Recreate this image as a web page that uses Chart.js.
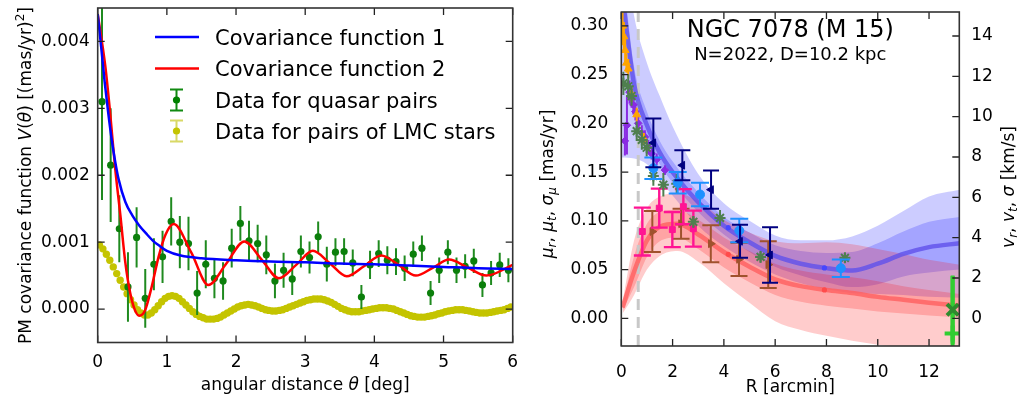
<!DOCTYPE html>
<html>
<head>
<meta charset="utf-8">
<script src="https://cdn.jsdelivr.net/npm/chart.js@4.4.1/dist/chart.umd.min.js"></script>
<style>
  html, body { margin: 0; padding: 0; background: #fff; }
  #wrap { position: relative; width: 1022px; height: 399px; }
  canvas { position: absolute; top: 0; }
</style>
</head>
<body>
<div id="wrap">
  <canvas id="covChart" width="520" height="399" style="left:0"></canvas>
  <canvas id="m15Chart" width="502" height="399" style="left:520px"></canvas>
</div>
<script>
// ---------- left panel: PM covariance ----------
const covTicksX = [0, 1, 2, 3, 4, 5, 6];
const covTicksY = [0, 0.001, 0.002, 0.003, 0.004];

const cov1Theta = [0, 0.05, 0.1, 0.15, 0.2, 0.25, 0.3, 0.4, 0.5, 0.6, 0.7, 0.8, 0.9, 1.0, 1.2, 1.5, 2.0, 2.5, 3.0, 3.5, 4.0, 4.5, 5.0, 5.5, 6.0];
const cov1 = [0.00441, 0.00392, 0.0034, 0.00295, 0.00255, 0.00222, 0.00195, 0.0016, 0.0014, 0.00125, 0.00113, 0.00102, 0.00094, 0.00087, 0.0008, 0.00076, 0.00073, 0.00071, 0.0007, 0.00068, 0.00067, 0.00065, 0.00063, 0.00061, 0.0006];

const cov2Theta = [0, 0.11, 0.18, 0.25, 0.33, 0.4, 0.47, 0.54, 0.6, 0.68, 0.78, 0.88, 0.98, 1.1, 1.35, 1.6, 1.86, 2.12, 2.37, 2.62, 2.87, 3.11, 3.35, 3.6, 3.85, 4.1, 4.35, 4.6, 4.85, 5.08, 5.35, 5.62, 6.0];
const cov2 = [0.00441, 0.00363, 0.00293, 0.00213, 0.00138, 0.00069, 0.00024, -0.00002, -0.0001, -0.00003, 0.00033, 0.00078, 0.00111, 0.00127, 0.00085, 0.00036, 0.00068, 0.00101, 0.00074, 0.00046, 0.00066, 0.00087, 0.00069, 0.00049, 0.00064, 0.0008, 0.00066, 0.0005, 0.00062, 0.00074, 0.00062, 0.0005, 0.00066];

const quasarTheta = [0.0625, 0.1875, 0.3125, 0.4375, 0.5625, 0.6875, 0.8125, 0.9375, 1.0625, 1.1875, 1.3125, 1.4375, 1.5625, 1.6875, 1.8125, 1.9375, 2.0625, 2.1875, 2.3125, 2.4375, 2.5625, 2.6875, 2.8125, 2.9375, 3.0625, 3.1875, 3.3125, 3.4375, 3.5625, 3.6875, 3.8125, 3.9375, 4.0625, 4.1875, 4.3125, 4.4375, 4.5625, 4.6875, 4.8125, 4.9375, 5.0625, 5.1875, 5.3125, 5.4375, 5.5625, 5.6875, 5.8125, 5.9375];
const quasarCov = [0.0031, 0.00215, 0.0012, 0.00033, 0.00107, 0.00016, 0.00067, 0.00078, 0.00131, 0.001, 0.00098, 0.00024, 0.00067, 0.00046, 0.00042, 0.00091, 0.00128, 0.00102, 0.00098, 0.00081, 0.00042, 0.00058, 0.00045, 0.00086, 0.00077, 0.00108, 0.00067, 0.00085, 0.00086, 0.00069, 0.00018, 0.00066, 0.00083, 0.00073, 0.00071, 0.00061, 0.00082, 0.00091, 0.00024, 0.00058, 0.00085, 0.00058, 0.00064, 0.00072, 0.00036, 0.00054, 0.00066, 0.00058];
const quasarErr = [0.00147, 0.00085, 0.0005, 0.00052, 0.00045, 0.00044, 0.00039, 0.00039, 0.00036, 0.00039, 0.0004, 0.00033, 0.00036, 0.0003, 0.00028, 0.00029, 0.00026, 0.0003, 0.00028, 0.00029, 0.00026, 0.00026, 0.00024, 0.00024, 0.00024, 0.00023, 0.00026, 0.00021, 0.0002, 0.0002, 0.00018, 0.00021, 0.0002, 0.00021, 0.0002, 0.00019, 0.00019, 0.00019, 0.00018, 0.00019, 0.00018, 0.00019, 0.00018, 0.00018, 0.00018, 0.00018, 0.00018, 0.00018];

const lmcTheta = [0.025, 0.075, 0.125, 0.175, 0.225, 0.275, 0.325, 0.375, 0.425, 0.475,
  0.525, 0.575, 0.625, 0.675, 0.725, 0.775, 0.825, 0.875, 0.925, 0.975,
  1.025, 1.075, 1.125, 1.175, 1.225, 1.275, 1.325, 1.375, 1.425, 1.475,
  1.525, 1.575, 1.625, 1.675, 1.725, 1.775, 1.825, 1.875, 1.925, 1.975,
  2.025, 2.075, 2.125, 2.175, 2.225, 2.275, 2.325, 2.375, 2.425, 2.475,
  2.525, 2.575, 2.625, 2.675, 2.725, 2.775, 2.825, 2.875, 2.925, 2.975,
  3.025, 3.075, 3.125, 3.175, 3.225, 3.275, 3.325, 3.375, 3.425, 3.475,
  3.525, 3.575, 3.625, 3.675, 3.725, 3.775, 3.825, 3.875, 3.925, 3.975,
  4.025, 4.075, 4.125, 4.175, 4.225, 4.275, 4.325, 4.375, 4.425, 4.475,
  4.525, 4.575, 4.625, 4.675, 4.725, 4.775, 4.825, 4.875, 4.925, 4.975,
  5.025, 5.075, 5.125, 5.175, 5.225, 5.275, 5.325, 5.375, 5.425, 5.475,
  5.525, 5.575, 5.625, 5.675, 5.725, 5.775, 5.825, 5.875, 5.925, 5.975];
const lmcCov = [0.00096, 0.0009, 0.00082, 0.00073, 0.00063, 0.00053, 0.00043, 0.00033, 0.00023, 0.00014,
  0.00006, -0.00001, -0.00006, -0.00009, -0.00009, -0.00006, -0.00001, 0.00005, 0.00011, 0.00016,
  0.00019, 0.0002, 0.00019, 0.00016, 0.00011, 0.00006, 0.00001, -0.00004, -0.00008, -0.00011,
  -0.00013, -0.00015, -0.00015, -0.00015, -0.00014, -0.00012, -0.00009, -0.00006, -0.00003, 0,
  0.00003, 0.00005, 0.00006, 0.00007, 0.00006, 0.00005, 0.00003, 0.00001, -0.00001, -0.00002,
  -0.00003, -0.00003, -0.00002, -0.00001, 0.00001, 0.00003, 0.00005, 0.00007, 0.00009, 0.00011,
  0.00013, 0.00014, 0.00015, 0.00015, 0.00015, 0.00014, 0.00012, 0.0001, 0.00007, 0.00004,
  0.00001, -0.00001, -0.00003, -0.00004, -0.00004, -0.00004, -0.00003, -0.00002, -0.00001, 0,
  0.00001, 0.00002, 0.00002, 0.00002, 0.00001, 0, -0.00002, -0.00004, -0.00006, -0.00008,
  -0.0001, -0.00011, -0.00012, -0.00012, -0.00012, -0.00011, -0.0001, -0.00009, -0.00007, -0.00006,
  -0.00004, -0.00003, -0.00002, -0.00001, -0.00001, -0.00001, -0.00002, -0.00003, -0.00004, -0.00005,
  -0.00006, -0.00006, -0.00006, -0.00005, -0.00004, -0.00003, -0.00002, -0.00001, 0.00001, 0.00003];

const covLegend = ['Covariance function 1', 'Covariance function 2', 'Data for quasar pairs', 'Data for pairs of LMC stars'];

// ---------- right panel: NGC 7078 profiles ----------
const muMin = -0.0284, muMax = 0.3142;       // mas/yr
const kmsMin = -1.373, kmsMax = 15.19;       // same range in km/s at D = 10.2 kpc
const m15TicksX = [0, 2, 4, 6, 8, 10, 12];
const m15TicksMu = [0, 0.05, 0.1, 0.15, 0.2, 0.25, 0.3];
const m15TicksKms = [0, 2, 4, 6, 8, 10, 12, 14];
const coreRadius = 0.66;

const dispR = [0, 0.5, 1, 1.5, 2, 3, 4, 5, 6, 7, 8, 9, 10, 11, 12, 13.2];
const dispLine =    [0.34, 0.24, 0.198, 0.17, 0.15, 0.119, 0.095, 0.078, 0.064, 0.056, 0.0515, 0.049, 0.056, 0.066, 0.073, 0.077];
const dispInnerHi = [0.37, 0.258, 0.212, 0.182, 0.161, 0.129, 0.104, 0.088, 0.075, 0.069, 0.067, 0.068, 0.077, 0.089, 0.099, 0.104];
const dispInnerLo = [0.30, 0.222, 0.184, 0.158, 0.139, 0.109, 0.086, 0.068, 0.053, 0.044, 0.037, 0.032, 0.035, 0.043, 0.047, 0.05];
const dispOuterHi = [0.40, 0.31, 0.262, 0.228, 0.197, 0.148, 0.118, 0.1, 0.085, 0.08, 0.08, 0.084, 0.095, 0.11, 0.125, 0.132];
const dispOuterLo = [0.165, 0.164, 0.158, 0.142, 0.126, 0.095, 0.074, 0.058, 0.045, 0.036, 0.03, 0.026, 0.025, 0.024, 0.022, 0.021];

const rotR = [0.05, 0.5, 1, 1.5, 2.2, 3, 4, 5, 6, 7, 8, 9, 10, 11, 12, 13.2];
const rotLine =    [0.011, 0.048, 0.08, 0.094, 0.097, 0.086, 0.068, 0.053, 0.04, 0.033, 0.029, 0.026, 0.022, 0.019, 0.016, 0.013];
const rotInnerHi = [0.014, 0.064, 0.097, 0.109, 0.111, 0.101, 0.083, 0.069, 0.056, 0.049, 0.045, 0.042, 0.038, 0.033, 0.029, 0.025];
const rotInnerLo = [0.008, 0.032, 0.063, 0.079, 0.083, 0.071, 0.052, 0.037, 0.024, 0.017, 0.013, 0.01, 0.007, 0.005, 0.003, 0.001];
const rotOuterHi = [0.017, 0.08, 0.113, 0.125, 0.128, 0.12, 0.101, 0.088, 0.079, 0.077, 0.078, 0.076, 0.071, 0.066, 0.06, 0.055];
const rotOuterLo = [0.005, 0.024, 0.05, 0.064, 0.069, 0.058, 0.036, 0.016, -0.003, -0.012, -0.018, -0.023, -0.027, -0.03, -0.033, -0.036];

const knotR = [4.17, 7.92];
const dispKnot = [0.093, 0.0517];
const rotKnot = [0.0656, 0.0291];

const orangeR = [0.05, 0.1, 0.15, 0.2, 0.27, 0.4, 0.6, 0.88];
const orangeV = [0.3, 0.289, 0.275, 0.262, 0.256, 0.23, 0.209, 0.184];
const orangeE = [0.02, 0.015, 0.012, 0.01, 0.01, 0.008, 0.007, 0.006];

const starR = [0.08, 0.27, 0.4, 0.6, 0.8, 0.99, 1.25, 1.64, 2.16, 2.81, 3.85, 5.43, 8.72];
const starV = [0.241, 0.238, 0.228, 0.192, 0.183, 0.175, 0.146, 0.137, 0.138, 0.099, 0.103, 0.063, 0.062];
const starE = [0.012, 0.012, 0.01, 0.01, 0.01, 0.009, 0.01, 0.012, 0.01, 0.006, 0.008, 0.006, 0.005];

const violetR = [0.14, 0.22, 0.32, 0.4, 0.47, 0.55, 0.66, 0.8, 0.92, 1.05, 1.18, 1.38, 1.7];
const violetV = [0.182, 0.198, 0.232, 0.226, 0.219, 0.212, 0.2, 0.19, 0.186, 0.176, 0.169, 0.163, 0.152];
const violetE = [0.015, 0.03, 0.012, 0.01, 0.01, 0.009, 0.008, 0.008, 0.007, 0.007, 0.006, 0.006, 0.005];

const navyR = [1.25, 2.38, 3.5, 4.63, 5.8];
const navyV = [0.18, 0.157, 0.132, 0.079, 0.065];
const navyE = [0.025, 0.0155, 0.0195, 0.017, 0.0285];

const skyR = [1.25, 2.2, 3.07, 4.6, 8.56];
const skyV = [0.154, 0.139, 0.127, 0.09, 0.0514];
const skyE = [0.011, 0.011, 0.012, 0.012, 0.009];

const pinkR = [0.82, 1.48, 1.99, 2.42, 2.81];
const pinkV = [0.089, 0.113, 0.091, 0.1145, 0.092];
const pinkE = [0.0245, 0.02, 0.018, 0.018, 0.0185];

const brownR = [1.21, 2.33, 3.49, 4.59, 5.73];
const brownV = [0.089, 0.097, 0.0765, 0.0605, 0.055];
const brownE = [0.021, 0.0155, 0.019, 0.017, 0.024];

const outerR = [12.92];
const outerPlusV = [-0.0155];
const outerPlusE = [0.059];
const outerCrossV = [0.0088];

// ---------- helpers ----------
Chart.defaults.font.family = '"DejaVu Sans", sans-serif';
Chart.defaults.font.size = 17;
Chart.defaults.color = '#000';

const pts = (xs, ys) => xs.map((x, i) => ({ x, y: ys[i] }));

function drawRich(ctx, parts, x, y, size, rot) {
  const fontFor = st => (st.includes('i') ? 'italic ' : '') +
    ((st.includes('s') || st.includes('p')) ? Math.round(size * 0.7) : size) + 'px "DejaVu Sans"';
  ctx.save();
  ctx.translate(x, y);
  ctx.rotate(rot || 0);
  ctx.fillStyle = '#000';
  ctx.textBaseline = 'alphabetic';
  ctx.textAlign = 'left';
  let w = 0;
  parts.forEach(([t, st = '']) => { ctx.font = fontFor(st); w += ctx.measureText(t).width; });
  let cx = -w / 2;
  parts.forEach(([t, st = '']) => {
    ctx.font = fontFor(st);
    const dy = st.includes('s') ? size * 0.2 : st.includes('p') ? -size * 0.4 : 0;
    ctx.fillText(t, cx, dy);
    cx += ctx.measureText(t).width;
  });
  ctx.restore();
}

// vertical error bars, drawn just before the markers of their dataset
const errorBars = {
  id: 'errorBars',
  beforeDatasetDraw(chart, args) {
    const ds = chart.data.datasets[args.index];
    if (!ds.yErr) return;
    const { ctx, chartArea: a } = chart;
    const xs = chart.scales.x, ys = chart.scales.y;
    ctx.save();
    ctx.beginPath();
    ctx.rect(a.left, a.top, a.right - a.left, a.bottom - a.top);
    ctx.clip();
    ctx.strokeStyle = ds.errColor;
    ctx.lineWidth = ds.errWidth || 1.5;
    ctx.beginPath();
    ds.data.forEach((p, i) => {
      const px = xs.getPixelForValue(p.x);
      const top = ys.getPixelForValue(p.y + ds.yErr[i]);
      const bot = ys.getPixelForValue(p.y - ds.yErr[i]);
      ctx.moveTo(px, top); ctx.lineTo(px, bot);
      if (ds.cap) {
        ctx.moveTo(px - ds.cap, top); ctx.lineTo(px + ds.cap, top);
        ctx.moveTo(px - ds.cap, bot); ctx.lineTo(px + ds.cap, bot);
      }
    });
    ctx.stroke();
    ctx.restore();
  }
};

// inward ticks on all four sides + frame
const axisFrame = {
  id: 'axisFrame',
  afterDraw(chart, args, opts) {
    const { ctx, chartArea: a, scales } = chart;
    const len = 7;
    ctx.save();
    ctx.strokeStyle = '#222';
    ctx.lineWidth = 1.3;
    ctx.beginPath();
    scales.x.ticks.forEach(t => {
      const p = scales.x.getPixelForValue(t.value);
      ctx.moveTo(p, a.bottom); ctx.lineTo(p, a.bottom - len);
      ctx.moveTo(p, a.top); ctx.lineTo(p, a.top + len);
    });
    scales.y.ticks.forEach(t => {
      const p = scales.y.getPixelForValue(t.value);
      ctx.moveTo(a.left, p); ctx.lineTo(a.left + len, p);
      if (!opts.rightScale) { ctx.moveTo(a.right, p); ctx.lineTo(a.right - len, p); }
    });
    if (opts.rightScale) {
      const s = scales[opts.rightScale];
      s.ticks.forEach(t => {
        const p = s.getPixelForValue(t.value);
        ctx.moveTo(a.right, p); ctx.lineTo(a.right - len, p);
      });
    }
    ctx.stroke();
    ctx.strokeStyle = '#333';
    ctx.lineWidth = 1.6;
    ctx.strokeRect(a.left, a.top, a.right - a.left, a.bottom - a.top);
    ctx.restore();
  }
};

const fixBox = (w, h) => s => {
  if (w != null) s.width = w;
  if (h != null) s.height = h;
  s.paddingLeft = 0; s.paddingRight = 0; s.paddingTop = 0; s.paddingBottom = 0;
};
const useTicks = values => s => { s.ticks = values.map(v => ({ value: v })); };
const noGrid = { display: false, drawTicks: false };

// ---------- left chart ----------
const covDecor = {
  id: 'covDecor',
  afterDraw(chart) {
    const ctx = chart.ctx;
    ctx.save();
    const rows = [37, 68.5, 100, 131];
    ctx.lineWidth = 2.5;
    ['#0000ff', '#ff0000'].forEach((c, i) => {
      ctx.strokeStyle = c;
      ctx.beginPath(); ctx.moveTo(155, rows[i]); ctx.lineTo(199, rows[i]); ctx.stroke();
    });
    [['#118a11', '#008000'], ['rgba(191,191,0,0.6)', '#c4c400']].forEach(([bar, dot], k) => {
      const y = rows[k + 2];
      ctx.strokeStyle = bar; ctx.lineWidth = 2;
      ctx.beginPath();
      ctx.moveTo(176.5, y - 10.5); ctx.lineTo(176.5, y + 10.5);
      ctx.moveTo(170, y - 10.5); ctx.lineTo(183, y - 10.5);
      ctx.moveTo(170, y + 10.5); ctx.lineTo(183, y + 10.5);
      ctx.stroke();
      ctx.fillStyle = dot;
      ctx.beginPath(); ctx.arc(176.5, y, 3.6, 0, Math.PI * 2); ctx.fill();
    });
    ctx.fillStyle = '#000';
    ctx.font = '21px "DejaVu Sans"';
    ctx.textBaseline = 'alphabetic';
    covLegend.forEach((t, i) => ctx.fillText(t, 215, rows[i] + 7.8));
    ctx.restore();
    drawRich(ctx, [['PM covariance function '], ['V', 'i'], ['('], ['θ', 'i'], [') [(mas/yr)'], ['2', 'p'], [']']],
      31, 175.5, 17, -Math.PI / 2);
    drawRich(ctx, [['angular distance '], ['θ', 'i'], [' [deg]']], 305.2, 390, 17, 0);
  }
};

new Chart(document.getElementById('covChart'), {
  type: 'line',
  data: {
    datasets: [
      { data: pts(cov1Theta, cov1), borderColor: '#0000ff', borderWidth: 2.5, pointRadius: 0,
        cubicInterpolationMode: 'monotone', fill: false, order: 1 },
      { data: pts(cov2Theta, cov2), borderColor: '#ff0000', borderWidth: 2.5, pointRadius: 0,
        cubicInterpolationMode: 'monotone', fill: false, order: 1 },
      { data: pts(quasarTheta, quasarCov), showLine: false, pointRadius: 3.6, pointBorderWidth: 0,
        pointBackgroundColor: '#0b7f0b', yErr: quasarErr, errColor: '#1f8a1f', errWidth: 2, order: 2 },
      { data: pts(lmcTheta, lmcCov), showLine: false, pointRadius: 3.7, pointBorderWidth: 0,
        pointBackgroundColor: '#c4c400', order: 3 }
    ]
  },
  options: {
    responsive: false, animation: false, devicePixelRatio: 1, events: [],
    layout: { padding: { top: 8, right: 7.3, left: 0, bottom: 0 } },
    plugins: { legend: { display: false }, tooltip: { enabled: false }, axisFrame: {} },
    scales: {
      x: { type: 'linear', bounds: 'data', min: 0, max: 6, afterFit: fixBox(null, 56.5), afterBuildTicks: useTicks(covTicksX),
           grid: noGrid, border: { display: false },
           ticks: { autoSkip: false, maxRotation: 0, padding: 9.5 } },
      y: { type: 'linear', bounds: 'data', min: -0.0005, max: 0.0045, afterFit: fixBox(97.7, null), afterBuildTicks: useTicks(covTicksY),
           grid: noGrid, border: { display: false },
           ticks: { padding: 8, callback: v => v.toFixed(3) } }
    }
  },
  plugins: [errorBars, axisFrame, covDecor]
});

// ---------- right chart ----------
const band = (R, vals, color, order, fillPrev) => ({
  data: pts(R, vals), borderColor: 'rgba(0,0,0,0)', borderWidth: 0, pointRadius: 0,
  cubicInterpolationMode: 'monotone', fill: fillPrev ? '-1' : false, backgroundColor: color, order
});
const markers = (R, V, E, o) => Object.assign({
  data: pts(R, V), showLine: false, yErr: E, errWidth: 2, order: 1
}, o);

const m15Decor = {
  id: 'm15Decor',
  afterDraw(chart) {
    const ctx = chart.ctx;
    const cx = (chart.chartArea.left + chart.chartArea.right) / 2;
    ctx.save();
    ctx.fillStyle = '#000';
    ctx.textAlign = 'center';
    ctx.textBaseline = 'alphabetic';
    ctx.font = '24px "DejaVu Sans"';
    ctx.fillText('NGC 7078 (M 15)', cx, 36.5);
    ctx.font = '18px "DejaVu Sans"';
    ctx.fillText('N=2022, D=10.2 kpc', cx, 60);
    ctx.restore();
    drawRich(ctx, [['R [arcmin]']], cx, 392, 17, 0);
    drawRich(ctx, [['μ', 'i'], ['r', 'is'], [', '], ['μ', 'i'], ['t', 'is'], [', '], ['σ', 'i'], ['μ', 'is'], [' [mas/yr]']],
      33, 184, 17, -Math.PI / 2);
    drawRich(ctx, [['v', 'i'], ['r', 'is'], [', '], ['v', 'i'], ['t', 'is'], [', '], ['σ', 'i'], [' [km/s]']],
      494, 187, 17, -Math.PI / 2);
  }
};

const blueA = 'rgba(0,0,255,0.2)', redA = 'rgba(255,0,0,0.2)';

new Chart(document.getElementById('m15Chart'), {
  type: 'line',
  data: {
    datasets: [
      // markers (lowest index on top)
      markers(outerR, outerCrossV, [0.035], { pointStyle: 'crossRot', pointRadius: 8, pointBorderWidth: 4,
        pointBorderColor: '#2e8b2e', errColor: '#32cd32', errWidth: 4, order: 0 }),
      markers(outerR, outerPlusV, outerPlusE, { pointStyle: 'cross', pointRadius: 8, pointBorderWidth: 4,
        pointBorderColor: '#32cd32', errColor: '#32cd32', errWidth: 4, order: 0 }),
      markers(navyR, navyV, navyE, { pointStyle: 'triangle', pointRotation: -90, pointRadius: 4.5,
        pointBackgroundColor: '#000080', pointBorderColor: '#000080', errColor: '#000080', cap: 8 }),
      markers(skyR, skyV, skyE, { pointStyle: 'circle', pointRadius: 4.5, pointBackgroundColor: '#1e90ff',
        pointBorderColor: '#1e90ff', errColor: '#1e90ff', cap: 9 }),
      markers(starR, starV, starE, { pointStyle: 'star', pointRadius: 5.5, pointBorderWidth: 2,
        pointBorderColor: '#4f7f4f', errColor: '#4f7f4f' }),
      markers(orangeR, orangeV, orangeE, { pointStyle: 'triangle', pointRadius: 4.5,
        pointBackgroundColor: '#ffa500', pointBorderColor: '#ffa500', errColor: '#ffa500' }),
      markers(violetR, violetV, violetE, { pointStyle: 'rectRot', pointRadius: 3.8,
        pointBackgroundColor: '#8a2be2', pointBorderColor: '#8a2be2', errColor: '#8a2be2' }),
      markers(pinkR, pinkV, pinkE, { pointStyle: 'rect', pointRadius: 4.2, pointBackgroundColor: '#ff1493',
        pointBorderColor: '#ff1493', errColor: '#ff1493', errWidth: 2.4, cap: 8.5 }),
      markers(brownR, brownV, brownE, { pointStyle: 'triangle', pointRotation: 90, pointRadius: 4.5,
        pointBackgroundColor: '#a0522d', pointBorderColor: '#a0522d', errColor: '#a0522d', cap: 8.5 }),
      // knots on model curves
      { data: pts(knotR, dispKnot), showLine: false, pointRadius: 2.6, pointBorderWidth: 0,
        pointBackgroundColor: '#4646ff', order: 4 },
      { data: pts(knotR, rotKnot), showLine: false, pointRadius: 2.6, pointBorderWidth: 0,
        pointBackgroundColor: '#ff4b4b', order: 4 },
      // model curves
      { data: pts(dispR, dispLine), borderColor: 'rgba(95,80,235,0.8)', borderWidth: 4.5, pointRadius: 0,
        cubicInterpolationMode: 'monotone', fill: false, order: 5 },
      { data: pts(rotR, rotLine), borderColor: 'rgba(255,95,95,0.8)', borderWidth: 4.5, pointRadius: 0,
        cubicInterpolationMode: 'monotone', fill: false, order: 5 },
      // core radius
      { data: [{ x: coreRadius, y: muMin }, { x: coreRadius, y: muMax }], borderColor: '#c8c8c8',
        borderWidth: 3, borderDash: [11, 7], pointRadius: 0, fill: false, order: 6 },
      // confidence bands
      band(rotR, rotInnerHi, redA, 10, false),
      band(rotR, rotInnerLo, redA, 10, true),
      band(rotR, rotOuterHi, redA, 11, false),
      band(rotR, rotOuterLo, redA, 11, true),
      band(dispR, dispInnerHi, blueA, 12, false),
      band(dispR, dispInnerLo, blueA, 12, true),
      band(dispR, dispOuterHi, blueA, 13, false),
      band(dispR, dispOuterLo, blueA, 13, true)
    ]
  },
  options: {
    responsive: false, animation: false, devicePixelRatio: 1, events: [],
    layout: { padding: { top: 8, right: 0, left: 0, bottom: 0 } },
    plugins: { legend: { display: false }, tooltip: { enabled: false }, axisFrame: { rightScale: 'y2' } },
    scales: {
      x: { type: 'linear', bounds: 'data', min: 0, max: 13.18, afterFit: fixBox(null, 53), afterBuildTicks: useTicks(m15TicksX),
           grid: noGrid, border: { display: false },
           ticks: { autoSkip: false, maxRotation: 0, padding: 16 } },
      y: { type: 'linear', bounds: 'data', position: 'left', min: muMin, max: muMax, afterFit: fixBox(101.3, null),
           afterBuildTicks: useTicks(m15TicksMu), grid: noGrid, border: { display: false },
           ticks: { padding: 13, callback: v => v.toFixed(2) } },
      y2: { type: 'linear', bounds: 'data', position: 'right', display: true, min: kmsMin, max: kmsMax,
            afterFit: fixBox(62.7, null), afterBuildTicks: useTicks(m15TicksKms), grid: noGrid, border: { display: false },
            ticks: { padding: 12 } }
    }
  },
  plugins: [errorBars, axisFrame, m15Decor]
});
</script>
</body>
</html>
